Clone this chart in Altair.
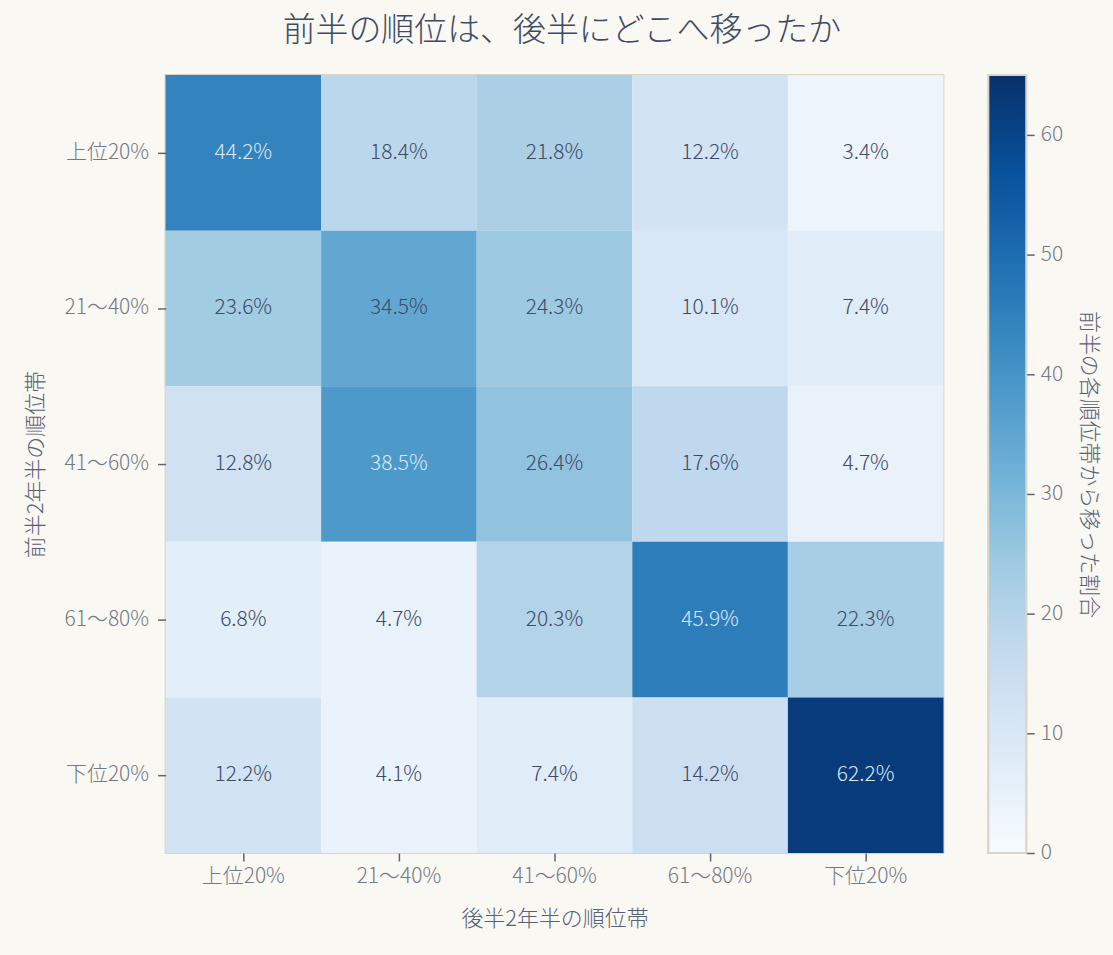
import altair as alt
import pandas as pd

rows = ["上位20%", "21～40%", "41～60%", "61～80%", "下位20%"]
cols = ["上位20%", "21～40%", "41～60%", "61～80%", "下位20%"]
values = [
    [44.2, 18.4, 21.8, 12.2, 3.4],
    [23.6, 34.5, 24.3, 10.1, 7.4],
    [12.8, 38.5, 26.4, 17.6, 4.7],
    [6.8, 4.7, 20.3, 45.9, 22.3],
    [12.2, 4.1, 7.4, 14.2, 62.2],
]
cbar_domain = [0, 65]
cbar_ticks = [0, 10, 20, 30, 40, 50, 60]
blues_stops = ["#f7fbff", "#deebf7", "#c6dbef", "#9ecae1", "#6baed6",
               "#4292c6", "#2171b5", "#08519c", "#08306b"]

n = len(blues_stops) - 1
scale_domain = [cbar_domain[0] + (cbar_domain[1] - cbar_domain[0]) * k / n for k in range(n + 1)]

records = []
for i, r in enumerate(rows):
    for j, c in enumerate(cols):
        v = values[i][j]
        records.append({"前半": r, "後半": c, "v": v, "label": f"{v:.1f}%"})
df = pd.DataFrame(records)

FONT = "Noto Sans CJK JP"
BG = "#f9f8f3"
LABEL = "#737884"
DARK = "#3e4a66"
BORDER = "#d9d5c9"
TICK = "#5f6470"

W, H = 780, 780

base = alt.Chart(df).encode(
    x=alt.X("後半:N", sort=cols, title="後半2年半の順位帯",
            axis=alt.Axis(labelAngle=0, domain=False, tickSize=8, tickColor=TICK,
                          tickWidth=1.5, labelPadding=5, titlePadding=22)),
    y=alt.Y("前半:N", sort=rows, title="前半2年半の順位帯",
            axis=alt.Axis(domain=False, tickSize=8, tickColor=TICK,
                          tickWidth=1.5, labelPadding=9, titlePadding=17)),
)
heat = base.mark_rect(strokeWidth=0).encode(
    color=alt.Color("v:Q", scale=alt.Scale(domain=scale_domain, range=blues_stops,
                                           interpolate="rgb"), legend=None)
)
text = base.mark_text(font=FONT, fontSize=21, fontWeight=300).encode(
    text="label:N",
    color=alt.condition(alt.datum.v > 36, alt.value("#dbe8f5"), alt.value(DARK)),
)
main = alt.layer(heat, text).properties(width=W, height=H)

cb_df = pd.DataFrame({"lo": [cbar_domain[0]], "hi": [cbar_domain[1]]})
cbar = alt.Chart(cb_df).mark_rect(
    fill=alt.Gradient(gradient="linear",
                      stops=[alt.GradientStop(offset=k / n, color=c)
                             for k, c in enumerate(blues_stops)],
                      x1=0, x2=0, y1=1, y2=0),
    stroke=BORDER, strokeWidth=2,
).encode(
    y=alt.Y("lo:Q", scale=alt.Scale(domain=cbar_domain, nice=False),
            title="前半の各順位帯から移った割合",
            axis=alt.Axis(orient="right", values=cbar_ticks, domain=False, grid=False,
                          tickSize=8, tickColor=TICK, tickWidth=1.5,
                          labelPadding=6, titlePadding=14)),
    y2="hi:Q",
).properties(width=38, height=H)

chart = alt.hconcat(main, cbar, spacing=42).properties(
    title=alt.Title("前半の順位は、後半にどこへ移ったか", fontSize=33, font=FONT,
                    fontWeight=300, color=DARK, offset=25, anchor="middle"),
    background=BG,
    padding={"left": 23, "top": 14, "right": 12, "bottom": 24},
).configure_axis(
    labelFont=FONT, titleFont=FONT, labelFontSize=21, titleFontSize=22,
    labelColor=LABEL, titleColor="#596075", labelFontWeight=300, titleFontWeight=300,
).configure_view(stroke=BORDER, strokeWidth=2)

chart.save("out.html", embed_options={"renderer": "svg", "actions": False})
